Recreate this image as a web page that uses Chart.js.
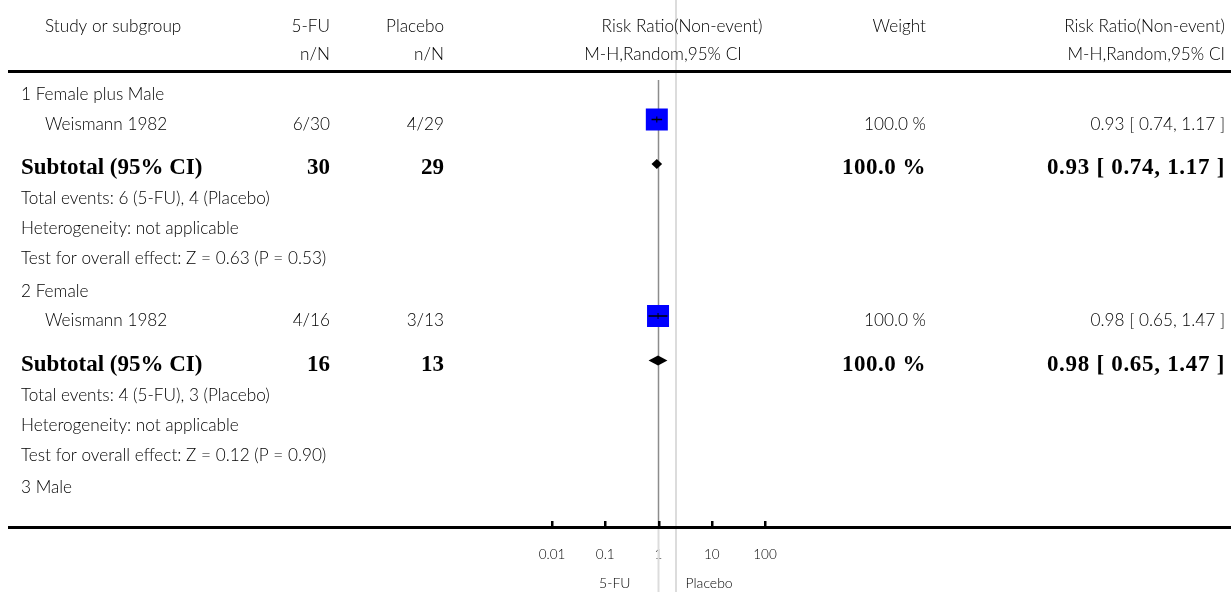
<!DOCTYPE html>
<html>
<head>
<meta charset="utf-8">
<title>Risk Ratio (Non-event) forest plot</title>
<script src="https://cdn.jsdelivr.net/npm/chart.js@4.4.1/dist/chart.umd.min.js"></script>
<style>
  html, body { margin: 0; padding: 0; background: #ffffff; }
  #wrap { position: relative; width: 1231px; height: 592px; }
</style>
</head>
<body>
<div id="wrap"><canvas id="forest" width="1231" height="592"></canvas></div>
<script>
// ---- data ----
const subgroupNames = ['1 Female plus Male', '2 Female', '3 Male'];

const studyNames = ['Weismann 1982', 'Weismann 1982'];
const studyGroup = [0, 1];
const studyEvents5FU = [6, 4];
const studyTotal5FU = [30, 16];
const studyEventsPlacebo = [4, 3];
const studyTotalPlacebo = [29, 13];
const studyRR = [0.93, 0.98];
const studyLower = [0.74, 0.65];
const studyUpper = [1.17, 1.47];
const studyWeight = [100.0, 100.0];

const subtotalGroup = [0, 1];
const subtotalN5FU = [30, 16];
const subtotalNPlacebo = [29, 13];
const subtotalEvents5FU = [6, 4];
const subtotalEventsPlacebo = [4, 3];
const subtotalRR = [0.93, 0.98];
const subtotalLower = [0.74, 0.65];
const subtotalUpper = [1.17, 1.47];
const subtotalWeight = [100.0, 100.0];
const subtotalZ = ['0.63', '0.12'];
const subtotalP = ['0.53', '0.90'];

const tickValues = [0.01, 0.1, 1, 10, 100];
const tickLabels = ['0.01', '0.1', '1', '10', '100'];
const favourLeft = '5-FU';
const favourRight = 'Placebo';

const headerTop = ['Study or subgroup', '5-FU', 'Placebo', 'Risk Ratio(Non-event)', 'Weight', 'Risk Ratio(Non-event)'];
const headerSub = ['', 'n/N', 'n/N', 'M-H,Random,95% CI', '', 'M-H,Random,95% CI'];

// ---- layout ----
const W = 1231, H = 592;
const AXIS_Y = 527;             // bottom of the plotting area / axis line
const FIRST_BASELINE = 100;
const MARK_RISE = 10;           // marks sit this far above the text baseline
const GAP = { group: 32.5, study: 29.5, subtotal: 44.5, note: 30 };
const COL = { name: 21, indent: 45, c5fu: 330, cPlacebo: 444, cWeight: 926, cRight: 1225 };
const GRAPH_HEAD = { top: 682, sub: 663 };
const FAMILY = 'Lato, "Open Sans", sans-serif';
const REG_FONT = '300 17.2px ' + FAMILY;
const BOLD_FONT = 'bold 23px "Liberation Serif", "DejaVu Serif", serif';
const SMALL_FONT = '300 14px ' + FAMILY;
const TEXT = '#000000';

function fmt2(v) { return v.toFixed(2); }
function ciText(rr, lo, hi) { return fmt2(rr) + ' [ ' + fmt2(lo) + ', ' + fmt2(hi) + ' ]'; }
function pct(v) { return v.toFixed(1) + ' %'; }

function buildRows() {
  const out = [];
  let y = FIRST_BASELINE;
  function push(r) {
    if (out.length) y += GAP[r.type];
    r.y = y;
    out.push(r);
  }
  subgroupNames.forEach((name, g) => {
    push({ type: 'group', text: name });
    studyNames.forEach((s, i) => { if (studyGroup[i] === g) push({ type: 'study', idx: i }); });
    const si = subtotalGroup.indexOf(g);
    if (si >= 0) {
      push({ type: 'subtotal', idx: si });
      push({ type: 'note', text: 'Total events: ' + subtotalEvents5FU[si] + ' (5-FU), ' + subtotalEventsPlacebo[si] + ' (Placebo)' });
      push({ type: 'note', text: 'Heterogeneity: not applicable' });
      push({ type: 'note', text: 'Test for overall effect: Z = ' + subtotalZ[si] + ' (P = ' + subtotalP[si] + ')' });
    }
  });
  return out;
}
const rows = buildRows();
const studyRowY = studyNames.map((_, i) => rows.find(r => r.type === 'study' && r.idx === i).y - MARK_RISE);
const subtotalRowY = subtotalGroup.map((_, i) => rows.find(r => r.type === 'subtotal' && r.idx === i).y - MARK_RISE);

function text(ctx, str, x, y, align, font, color, spacing) {
  ctx.font = font;
  ctx.fillStyle = color || TEXT;
  ctx.textAlign = align;
  ctx.textBaseline = 'alphabetic';
  ctx.letterSpacing = spacing || '0px';
  ctx.fillText(str, x, y);
  ctx.letterSpacing = '0px';
}

const forestDecor = {
  id: 'forestDecor',
  beforeDatasetsDraw(chart) {
    const { ctx, scales: { x, y } } = chart;
    const x1 = x.getPixelForValue(1);
    ctx.save();
    // pale divider through the whole figure
    ctx.strokeStyle = '#dcdcdc';
    ctx.lineWidth = 2;
    ctx.beginPath();
    ctx.moveTo(Math.round(x1 + 17), 0);
    ctx.lineTo(Math.round(x1 + 17), H);
    ctx.stroke();
    // line of no effect: pale below the axis, grey inside the plot
    ctx.beginPath();
    ctx.moveTo(x1, y.getPixelForValue(AXIS_Y));
    ctx.lineTo(x1, H);
    ctx.stroke();
    ctx.strokeStyle = '#8c8c8c';
    ctx.lineWidth = 1.5;
    ctx.beginPath();
    ctx.moveTo(x1, y.getPixelForValue(80));
    ctx.lineTo(x1, y.getPixelForValue(AXIS_Y));
    ctx.stroke();
    ctx.restore();
  },
  afterDatasetsDraw(chart) {
    const { ctx, scales: { x, y } } = chart;
    ctx.save();
    // pooled estimates as diamonds spanning the confidence interval
    ctx.fillStyle = '#000000';
    subtotalRR.forEach((rr, i) => {
      const cy = y.getPixelForValue(subtotalRowY[i]);
      const xl = x.getPixelForValue(subtotalLower[i]);
      const xr = x.getPixelForValue(subtotalUpper[i]);
      const xc = x.getPixelForValue(rr);
      ctx.beginPath();
      ctx.moveTo(xl, cy);
      ctx.lineTo(xc, cy - 5);
      ctx.lineTo(xr, cy);
      ctx.lineTo(xc, cy + 5);
      ctx.closePath();
      ctx.fill();
    });
    ctx.restore();
  },
  afterDraw(chart) {
    const { ctx, scales: { x, y } } = chart;
    ctx.save();
    // rules
    ctx.fillStyle = '#000000';
    ctx.fillRect(8, 70, W - 8, 3);
    const ay = y.getPixelForValue(AXIS_Y);
    ctx.fillRect(8, ay - 1, W - 8, 3);
    // tick marks on the axis
    x.ticks.forEach((t, i) => {
      const px = Math.round(x.getPixelForTick(i));
      ctx.fillRect(px - 1, ay - 6, 2.5, 6);
    });

    // header
    const hxTop = [COL.indent, COL.c5fu, COL.cPlacebo, GRAPH_HEAD.top, COL.cWeight, COL.cRight];
    const hxSub = [COL.indent, COL.c5fu, COL.cPlacebo, GRAPH_HEAD.sub, COL.cWeight, COL.cRight];
    const ha = ['left', 'right', 'right', 'center', 'right', 'right'];
    headerTop.forEach((s, i) => text(ctx, s, hxTop[i], 32, ha[i], REG_FONT));
    headerSub.forEach((s, i) => { if (s) text(ctx, s, hxSub[i], 60, ha[i], REG_FONT); });

    // table rows
    rows.forEach(r => {
      if (r.type === 'group' || r.type === 'note') {
        text(ctx, r.text, COL.name, r.y, 'left', REG_FONT);
      } else if (r.type === 'study') {
        const i = r.idx;
        text(ctx, studyNames[i], COL.indent, r.y, 'left', REG_FONT);
        text(ctx, studyEvents5FU[i] + '/' + studyTotal5FU[i], COL.c5fu, r.y, 'right', REG_FONT);
        text(ctx, studyEventsPlacebo[i] + '/' + studyTotalPlacebo[i], COL.cPlacebo, r.y, 'right', REG_FONT);
        text(ctx, pct(studyWeight[i]), COL.cWeight, r.y, 'right', REG_FONT);
        text(ctx, ciText(studyRR[i], studyLower[i], studyUpper[i]), COL.cRight, r.y, 'right', REG_FONT);
      } else if (r.type === 'subtotal') {
        const i = r.idx;
        text(ctx, 'Subtotal (95% CI)', COL.name, r.y, 'left', BOLD_FONT, '#000');
        text(ctx, String(subtotalN5FU[i]), COL.c5fu, r.y, 'right', BOLD_FONT, '#000');
        text(ctx, String(subtotalNPlacebo[i]), COL.cPlacebo, r.y, 'right', BOLD_FONT, '#000');
        text(ctx, pct(subtotalWeight[i]), COL.cWeight, r.y, 'right', BOLD_FONT, '#000', '0.5px');
        text(ctx, ciText(subtotalRR[i], subtotalLower[i], subtotalUpper[i]), COL.cRight, r.y, 'right', BOLD_FONT, '#000', '0.7px');
      }
    });

    // favours labels under the axis
    const x1 = x.getPixelForValue(1);
    text(ctx, favourLeft, x1 - 28, 588, 'right', SMALL_FONT);
    text(ctx, favourRight, x1 + 27, 588, 'left', SMALL_FONT);
    ctx.restore();
  }
};

const ciDatasets = studyRR.map((rr, i) => ({
  label: 'CI ' + (i + 1),
  data: [{ x: studyLower[i], y: studyRowY[i] }, { x: studyUpper[i], y: studyRowY[i] }],
  showLine: true,
  borderColor: '#000000',
  borderWidth: 1.5,
  pointRadius: 0,
  order: 0
}));

new Chart(document.getElementById('forest'), {
  type: 'scatter',
  data: {
    datasets: [
      ...ciDatasets,
      {
        label: 'Point estimate',
        data: studyRR.map((rr, i) => ({ x: rr, y: studyRowY[i] })),
        pointStyle: 'line',
        rotation: 90,
        pointRadius: 3,
        borderColor: '#000000',
        borderWidth: 1,
        order: 0
      },
      {
        label: 'Study weight',
        data: studyRR.map((rr, i) => ({ x: rr, y: studyRowY[i] })),
        pointStyle: 'rect',
        pointRadius: 15.56,
        backgroundColor: '#0000ff',
        borderWidth: 0,
        order: 1
      }
    ]
  },
  options: {
    responsive: false,
    animation: false,
    devicePixelRatio: 1,
    layout: { autoPadding: false, padding: { left: 552, right: 466, top: 0, bottom: 0 } },
    plugins: { legend: { display: false }, tooltip: { enabled: false } },
    events: [],
    scales: {
      x: {
        type: 'logarithmic',
        position: 'bottom',
        min: 0.01,
        max: 100,
        grid: { display: false, drawTicks: false },
        border: { display: false },
        afterBuildTicks: s => { s.ticks = tickValues.map(v => ({ value: v })); },
        afterFit: s => { s.height = H - AXIS_Y; },
        ticks: {
          autoSkip: false,
          maxRotation: 0,
          padding: 20,
          color: TEXT,
          font: { family: FAMILY, size: 13.5, weight: 300 },
          callback: v => { const k = tickValues.indexOf(v); return k >= 0 ? tickLabels[k] : ''; }
        }
      },
      y: {
        type: 'linear',
        display: false,
        min: 0,
        max: AXIS_Y,
        reverse: true
      }
    }
  },
  plugins: [forestDecor]
});
</script>
</body>
</html>
